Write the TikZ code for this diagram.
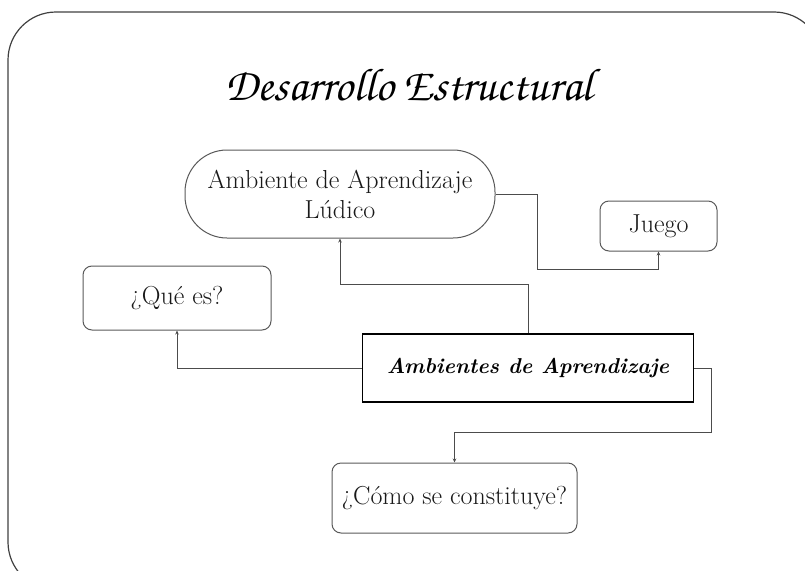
\documentclass[tikz,border=0pt]{standalone}
\usepackage[T1,TU]{fontenc}
\usepackage{tikz}
\usetikzlibrary{arrows.meta}
\newcommand\chancery{\fontencoding{T1}\fontfamily{pzc}\fontseries{mb}\fontshape{it}\selectfont}
\tikzset{
    soft-box/.style = {draw=black!65, line width=1pt, rectangle, rounded corners=9pt, inner sep=0pt, align=center, text=black!90, font=\fontsize{26}{30}\selectfont},
    pill-box/.style = {soft-box, rounded corners=42pt},
    main-box/.style = {draw=black, line width=1.6pt, rectangle, inner sep=0pt, font=\fontsize{21.5}{26}\selectfont\bfseries\itshape},
    link/.style = {draw=black!70, line width=1pt, -{Stealth[length=4pt,width=3.5pt]}},
}

\begin{document}
\begin{tikzpicture}[x=1pt,y=-1pt]
\useasboundingbox (0,0) rectangle (805,570);
\begin{scope}
\clip (0,0) rectangle (805,570);
\draw[black!75, line width=1.2pt, rounded corners=48pt] (8,12) rectangle (822,590);
\end{scope}
% title
\node (title) at (409,84) {\chancery\fontsize{46}{50}\selectfont Desarrollo Estructural};
% boxes
\node[pill-box, minimum width=310pt, minimum height=88pt] (ludico) at (340,194) {Ambiente de Aprendizaje\\Lúdico};
\node[soft-box, minimum width=117pt, minimum height=50pt] (juego) at (658.5,226) {Juego};
\node[soft-box, minimum width=188pt, minimum height=64pt] (quees) at (177,298) {¿Qué es?};
\node[main-box, minimum width=331pt, minimum height=68pt] (ambientes) at (528,368) {Ambientes de Aprendizaje};
\node[soft-box, minimum width=245pt, minimum height=70pt] (como) at (454.5,498) {¿Cómo se constituye?};
% connectors
\draw[link] (ambientes.north) -- ++(0,-49) -| (ludico.south);
\draw[link] (ludico.east) -- ++(42,0) -- ++(0,75) -| (juego.south);
\draw[link] (ambientes.west) -| (quees.south);
\draw[link] (ambientes.east) -- ++(17,0) -- ++(0,64) -| (como.north);
\end{tikzpicture}
\end{document}
